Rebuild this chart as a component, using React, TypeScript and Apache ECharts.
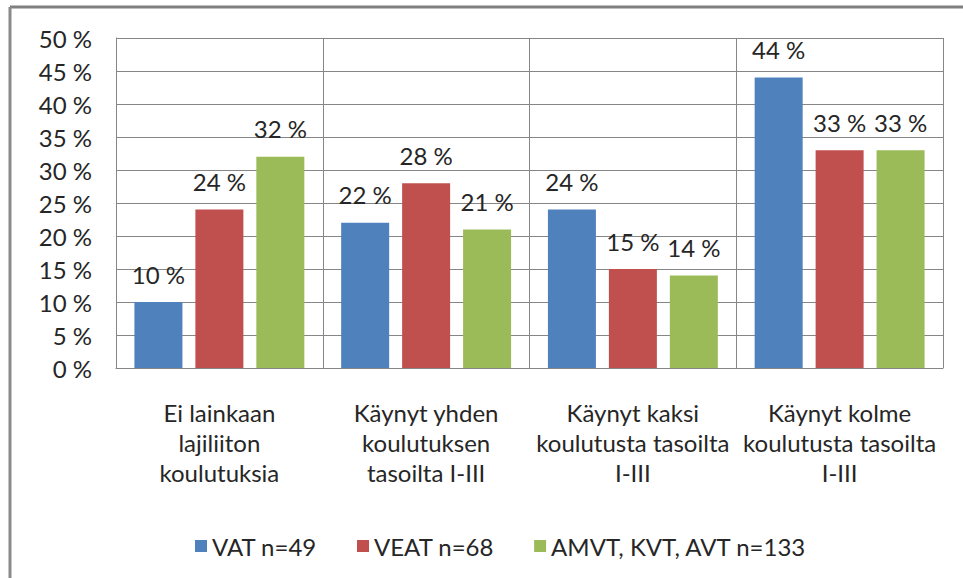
import React, { useEffect, useRef } from "react";
import * as echarts from "echarts";

const categories = [
  "Ei lainkaan\nlajiliiton\nkoulutuksia",
  "Käynyt yhden\nkoulutuksen\ntasoilta I-III",
  "Käynyt kaksi\nkoulutusta tasoilta\nI-III",
  "Käynyt kolme\nkoulutusta tasoilta\nI-III",
];
const seriesNames = ["VAT n=49", "VEAT n=68", "AMVT, KVT, AVT n=133"];
const vatValues = [10, 22, 24, 44];
const veatValues = [24, 28, 15, 33];
const amvtValues = [32, 21, 14, 33];
const colors = ["#4F81BD", "#C0504D", "#9BBB59"];
const FONT = "Lato";
const FS = 24;
const TEXT = "#262626";

export default function App() {
  const ref = useRef<HTMLDivElement>(null);
  useEffect(() => {
    if (!ref.current) return;
    const chart = echarts.init(ref.current, undefined, { renderer: "svg" });
    const mk = (name: string, data: number[], color: string) => ({
      name,
      type: "bar",
      data,
      barWidth: 48,
      barGap: "27%",
      itemStyle: { color },
      label: {
        show: true,
        position: "top",
        distance: 16,
        formatter: "{c} %",
        fontFamily: FONT,
        fontSize: FS,
        color: TEXT,
      },
    });
    chart.setOption({
      animation: false,
      backgroundColor: "#fff",
      textStyle: { fontFamily: FONT },
      grid: { left: 116, right: 20, top: 38, bottom: 210, containLabel: false },
      legend: {
        data: seriesNames,
        left: 190,
        top: 529,
        itemWidth: 12,
        itemHeight: 12,
        itemGap: 40,
        icon: "rect",
        textStyle: { fontFamily: FONT, fontSize: FS, color: TEXT },
      },
      xAxis: {
        type: "category",
        data: categories,
        axisTick: { show: false },
        axisLine: { lineStyle: { color: "#868686", width: 1 } },
        splitLine: { show: true, interval: 0, lineStyle: { color: "#868686", width: 1 } },
        axisLabel: {
          interval: 0,
          margin: 29,
          fontFamily: FONT,
          fontSize: FS,
          lineHeight: 30,
          color: TEXT,
          align: "center",
        },
      },
      yAxis: {
        type: "value",
        min: 0,
        max: 50,
        interval: 5,
        axisLine: { show: true, lineStyle: { color: "#868686", width: 1 } },
        axisTick: { show: false },
        splitLine: { show: true, lineStyle: { color: "#868686", width: 1 } },
        axisLabel: {
          formatter: "{value} %",
          margin: 24,
          fontFamily: FONT,
          fontSize: FS,
          color: TEXT,
        },
      },
      graphic: [
        { type: "line", shape: { x1: 10, y1: 7, x2: 963, y2: 7 }, style: { stroke: "#7f7f7f", lineWidth: 3 } },
        { type: "line", shape: { x1: 10, y1: 7, x2: 10, y2: 578 }, style: { stroke: "#8a8a8a", lineWidth: 3 } },
      ],
      series: [
        mk(seriesNames[0], vatValues, colors[0]),
        mk(seriesNames[1], veatValues, colors[1]),
        mk(seriesNames[2], amvtValues, colors[2]),
      ],
    });
    return () => chart.dispose();
  }, []);
  return (
    <div
      ref={ref}
      style={{ position: "fixed", left: 0, top: 0, width: 963, height: 578 }}
    />
  );
}
